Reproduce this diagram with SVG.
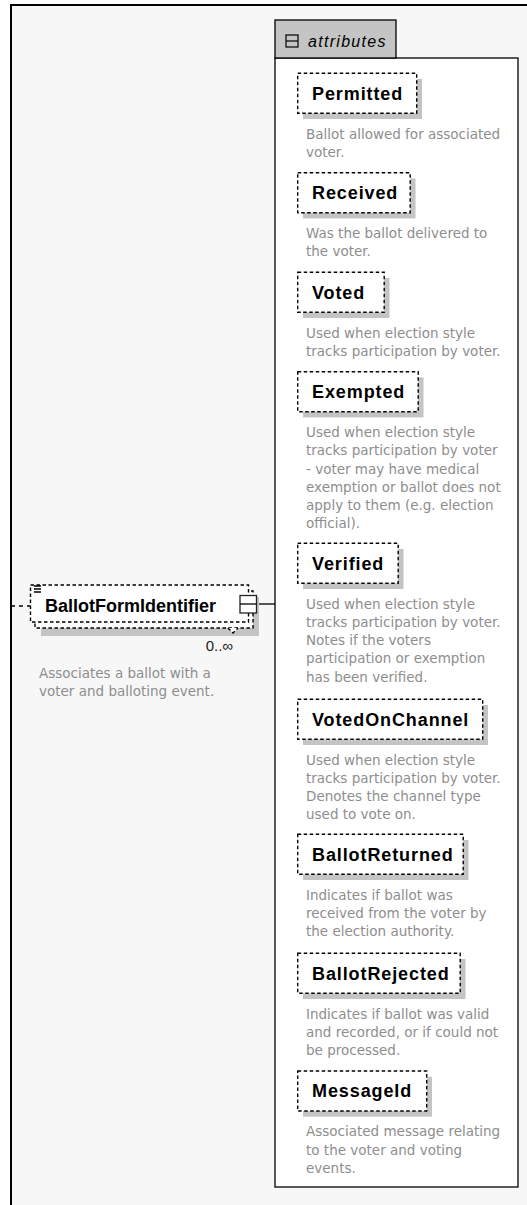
<svg xmlns="http://www.w3.org/2000/svg" width="527" height="1205" viewBox="0 0 527 1205">
<style>
.frame{fill:#f7f7f7;stroke:#000;stroke-width:2}
.el{fill:#fff;stroke:#000;stroke-width:1.4;stroke-dasharray:3.5 2.5}
.sh{fill:#c4c4c4}
.nm{font-family:"Liberation Sans",Arial,sans-serif;font-weight:bold;font-size:18px;letter-spacing:0.9px;fill:#000}
.ds{font-family:"DejaVu Sans",Verdana,sans-serif;font-size:13.5px;fill:#8e8e8e}
.ln{stroke:#000;stroke-width:1.3;fill:none}
</style>
<rect x="0" y="0" width="527" height="1205" fill="#fff"/>
<rect class="frame" x="11" y="5" width="600" height="1300"/>

<g id="connectors">
<line class="ln" x1="11" y1="606" x2="30" y2="606" stroke-dasharray="4 4"/>
<line class="ln" x1="256.5" y1="604" x2="275" y2="604"/>
</g>

<g id="BallotFormIdentifier">
<rect class="sh" x="41" y="597" width="218" height="39"/>
<rect class="el" x="35" y="591" width="218" height="37"/>
<rect class="el" x="30.5" y="585" width="218" height="37"/>
<path class="ln" d="M34,586h7M34,589h7M34,592h7" stroke-width="1"/>
<path class="el" d="M228,628 L233,633 L238,628" fill="none"/>
<text x="45" y="612" font-family="Liberation Sans,Arial,sans-serif" font-weight="bold" font-size="18">BallotFormIdentifier</text>
<rect x="240" y="595.5" width="16.5" height="17.5" fill="#fff" stroke="#222" stroke-width="1.3"/>
<line class="ln" x1="240" y1="604" x2="256.5" y2="604"/>
<text x="233" y="651" text-anchor="end" font-family="Liberation Sans,Arial,sans-serif" font-size="15" fill="#222">0..∞</text>
<text class="ds" x="39" y="678">Associates a ballot with a</text>
<text class="ds" x="39" y="696">voter and balloting event.</text>
</g>

<g id="attributes">
<rect x="275" y="58" width="243" height="1129" fill="#fff" stroke="#000" stroke-width="1.3"/>
<rect x="275" y="20" width="121" height="38" fill="#c4c4c4" stroke="#000" stroke-width="1.3"/>
<rect x="286" y="35" width="12" height="12" fill="none" stroke="#000" stroke-width="1.2"/>
<line x1="286" y1="41" x2="298" y2="41" stroke="#000" stroke-width="1.2"/>
<text x="308" y="46.5" font-family="Liberation Sans,Arial,sans-serif" font-style="italic" font-size="16" letter-spacing="1.3">attributes</text>
</g>

<g id="Permitted">
<rect class="sh" x="303" y="79" width="119" height="40"/>
<rect class="el" x="297.7" y="73.3" width="119" height="40"/>
<text class="nm" x="312" y="99.5">Permitted</text>
<text class="ds" x="306" y="138.5">Ballot allowed for associated</text>
<text class="ds" x="306" y="156.8">voter.</text>
</g>

<g id="Received">
<rect class="sh" x="303" y="178.4" width="112.5" height="40"/>
<rect class="el" x="297.7" y="172.7" width="112.5" height="40"/>
<text class="nm" x="312" y="198.9">Received</text>
<text class="ds" x="306" y="237.9">Was the ballot delivered to</text>
<text class="ds" x="306" y="256.2">the voter.</text>
</g>

<g id="Voted">
<rect class="sh" x="303" y="278" width="86.5" height="40"/>
<rect class="el" x="297.7" y="272.3" width="86.5" height="40"/>
<text class="nm" x="312" y="298.5">Voted</text>
<text class="ds" x="306" y="337.5">Used when election style</text>
<text class="ds" x="306" y="355.8">tracks participation by voter.</text>
</g>

<g id="Exempted">
<rect class="sh" x="303" y="377.4" width="120.5" height="40"/>
<rect class="el" x="297.7" y="371.7" width="120.5" height="40"/>
<text class="nm" x="312" y="397.9">Exempted</text>
<text class="ds" x="306" y="436.9">Used when election style</text>
<text class="ds" x="306" y="455.2">tracks participation by voter</text>
<text class="ds" x="306" y="473.5">- voter may have medical</text>
<text class="ds" x="306" y="491.8">exemption or ballot does not</text>
<text class="ds" x="306" y="510.1">apply to them (e.g. election</text>
<text class="ds" x="306" y="528.4">official).</text>
</g>

<g id="Verified">
<rect class="sh" x="303" y="549" width="100.5" height="40"/>
<rect class="el" x="297.7" y="543.3" width="100.5" height="40"/>
<text class="nm" x="312" y="569.5">Verified</text>
<text class="ds" x="306" y="608.5">Used when election style</text>
<text class="ds" x="306" y="626.8">tracks participation by voter.</text>
<text class="ds" x="306" y="645.1">Notes if the voters</text>
<text class="ds" x="306" y="663.4">participation or exemption</text>
<text class="ds" x="306" y="681.7">has been verified.</text>
</g>

<g id="VotedOnChannel">
<rect class="sh" x="303" y="705" width="185" height="40"/>
<rect class="el" x="297.7" y="699.3" width="185" height="40"/>
<text class="nm" x="312" y="725.5">VotedOnChannel</text>
<text class="ds" x="306" y="764.5">Used when election style</text>
<text class="ds" x="306" y="782.8">tracks participation by voter.</text>
<text class="ds" x="306" y="801.1">Denotes the channel type</text>
<text class="ds" x="306" y="819.4">used to vote on.</text>
</g>

<g id="BallotReturned">
<rect class="sh" x="303" y="840" width="165.5" height="40"/>
<rect class="el" x="297.7" y="834.3" width="165.5" height="40"/>
<text class="nm" x="312" y="860.5">BallotReturned</text>
<text class="ds" x="306" y="899.5">Indicates if ballot was</text>
<text class="ds" x="306" y="917.8">received from the voter by</text>
<text class="ds" x="306" y="936.1">the election authority.</text>
</g>

<g id="BallotRejected">
<rect class="sh" x="303" y="959" width="162.5" height="40"/>
<rect class="el" x="297.7" y="953.3" width="162.5" height="40"/>
<text class="nm" x="312" y="979.5">BallotRejected</text>
<text class="ds" x="306" y="1018.5">Indicates if ballot was valid</text>
<text class="ds" x="306" y="1036.8">and recorded, or if could not</text>
<text class="ds" x="306" y="1055.1">be processed.</text>
</g>

<g id="MessageId">
<rect class="sh" x="303" y="1076.7" width="129" height="40"/>
<rect class="el" x="297.7" y="1071" width="129" height="40"/>
<text class="nm" x="312" y="1097.2">MessageId</text>
<text class="ds" x="306" y="1136.2">Associated message relating</text>
<text class="ds" x="306" y="1154.5">to the voter and voting</text>
<text class="ds" x="306" y="1172.8">events.</text>
</g>
</svg>
